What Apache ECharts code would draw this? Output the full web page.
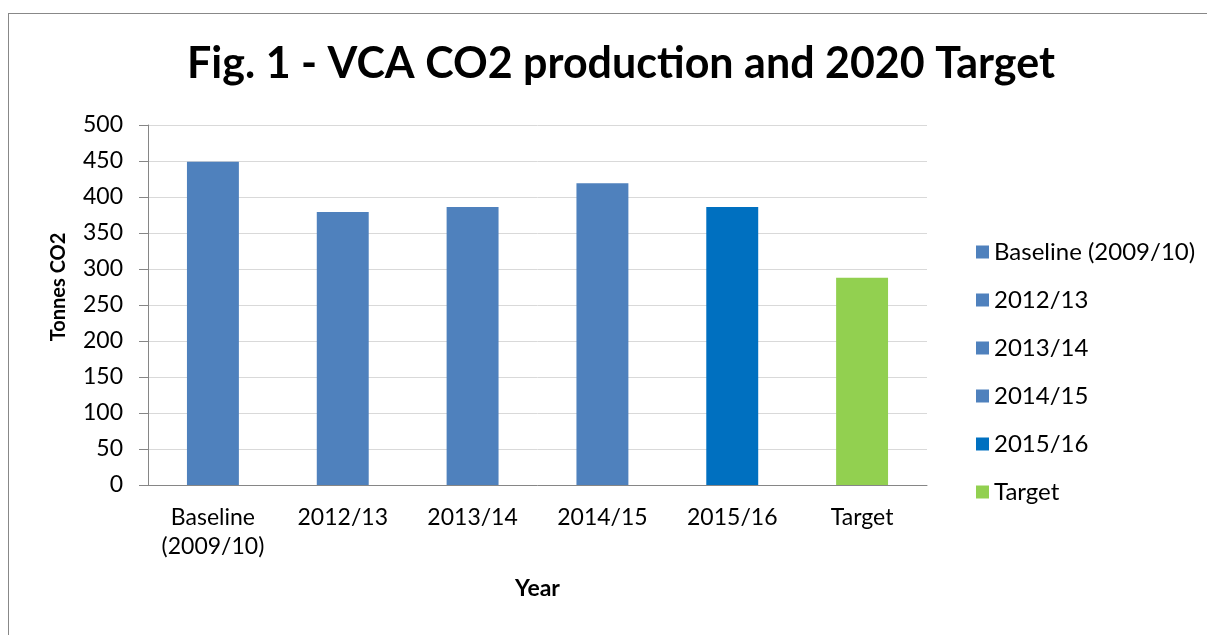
<!DOCTYPE html>
<html>
<head>
<meta charset="utf-8">
<script src="https://cdn.jsdelivr.net/npm/echarts@6/dist/echarts.min.js"></script>
<style>
  html, body { margin: 0; padding: 0; background: #fff; overflow: hidden; }
  #frame { position: absolute; left: 8px; top: 13px; width: 1220px; height: 640px; border: 1px solid #888; box-sizing: border-box; }
  #chart { position: absolute; left: 0; top: 0; width: 1207px; height: 635px; }
</style>
</head>
<body>
<div id="frame"></div>
<div id="chart"></div>
<script>
// categories and values
var categories = ['Baseline\n(2009/10)', '2012/13', '2013/14', '2014/15', '2015/16', 'Target'];
var legendNames = ['Baseline (2009/10)', '2012/13', '2013/14', '2014/15', '2015/16', 'Target'];
var co2Values = [449, 379, 386, 419, 386, 288];
var barColors = ['#4F81BD', '#4F81BD', '#4F81BD', '#4F81BD', '#0070C0', '#92D050'];
var yTicks = { min: 0, max: 500, interval: 50 };

var font = 'Lato, "Open Sans", sans-serif';

var chartDom = document.getElementById('chart');
var myChart = echarts.init(chartDom);
var option;

// one series per year so the legend lists each one, stacked so bars stay centred
var series = legendNames.map(function(name, i) {
  return {
    name: name,
    type: 'bar',
    stack: 'all',
    barWidth: '40%',
    itemStyle: { color: barColors[i] },
    data: co2Values.map(function(v, j) { return j === i ? v : '-'; })
  };
});

option = {
  animation: false,
  textStyle: { fontFamily: font },
  title: {
    text: 'Fig. 1 - VCA CO2 production and 2020 Target',
    left: 616,
    top: 38,
    textAlign: 'center',
    textStyle: { fontFamily: font, fontSize: 43, fontWeight: 'bold', color: '#000' }
  },
  legend: {
    orient: 'vertical',
    left: 971,
    top: 235,
    itemWidth: 13,
    itemHeight: 13,
    itemGap: 24,
    icon: 'rect',
    selectedMode: false,
    data: legendNames,
    textStyle: { fontFamily: font, fontSize: 24, color: '#000', lineHeight: 24 }
  },
  grid: {
    left: 148,
    right: 280,
    top: 125,
    bottom: 150
  },
  xAxis: {
    type: 'category',
    data: categories,
    name: 'Year',
    nameLocation: 'middle',
    nameGap: 92,
    nameTextStyle: { fontFamily: font, fontSize: 23, fontWeight: 'bold', color: '#000', verticalAlign: 'top' },
    axisLine: { lineStyle: { color: '#868686', width: 1 } },
    axisTick: { show: false },
    axisLabel: { interval: 0, margin: 18, fontSize: 23, color: '#000', lineHeight: 29 }
  },
  yAxis: {
    type: 'value',
    min: yTicks.min,
    max: yTicks.max,
    interval: yTicks.interval,
    axisLine: { show: true, lineStyle: { color: '#868686', width: 1 } },
    axisTick: { show: true, length: 9, lineStyle: { color: '#868686' } },
    axisLabel: { margin: 25, fontSize: 23, color: '#000' },
    splitLine: { lineStyle: { color: '#D9D9D9', width: 1 } }
  },
  graphic: [
    {
      type: 'text',
      x: 59,
      y: 287,
      rotation: Math.PI / 2,
      style: {
        text: 'Tonnes CO2',
        fontFamily: font,
        fontSize: 20,
        fontWeight: 'bold',
        fill: '#000',
        textAlign: 'center',
        textVerticalAlign: 'middle'
      }
    }
  ],
  series: series
};

myChart.setOption(option);
</script>
</body>
</html>
